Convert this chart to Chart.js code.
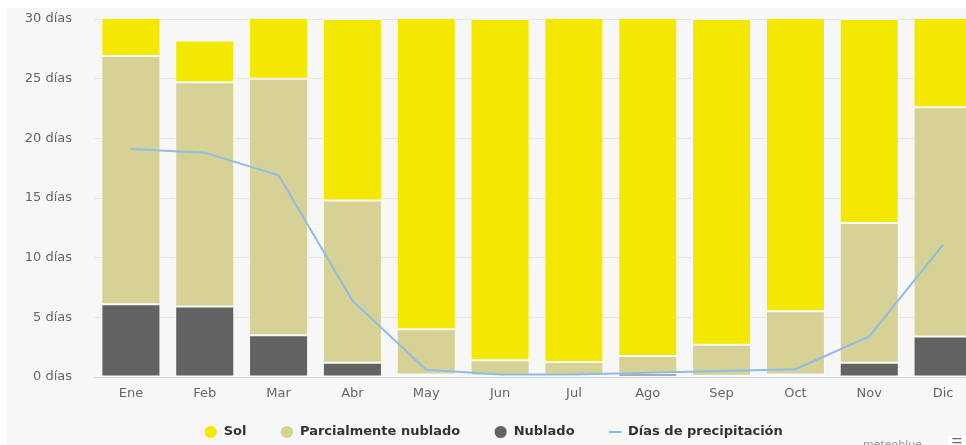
<!DOCTYPE html>
<html>
<head>
<meta charset="utf-8">
<script src="https://cdn.jsdelivr.net/npm/chart.js@4.4.1/dist/chart.umd.min.js"></script>
<style>
    body { margin: 0; background: #fff; overflow: hidden; }
    #wrap { position: absolute; left: 7px; top: 8px; width: 959px; height: 437px; background: #f7f7f7; overflow: hidden; }
    #box { position: relative; width: 984px; height: 437px; }
    .credit { position: absolute; left: 856px; top: 430px; font: 11px "DejaVu Sans", sans-serif; color: #999; }
    .menu { position: absolute; left: 941px; top: 428px; width: 18px; height: 12px; background: #fff; color: #666; font: 12px "DejaVu Sans", sans-serif; text-align: center; }
</style>
</head>
<body>
<div id="wrap">
    <div id="box"><canvas id="cloudChart"></canvas></div>
    <div class="credit">meteoblue</div>
    <div class="menu">☰</div>
</div>
<script>
// 월별 날씨 (일수)
const months = ['Ene', 'Feb', 'Mar', 'Abr', 'May', 'Jun', 'Jul', 'Ago', 'Sep', 'Oct', 'Nov', 'Dic'];
const nublado = [6.1, 5.9, 3.5, 1.2, 0.2, 0.1, 0.1, 0.3, 0.1, 0.2, 1.2, 3.4];
const parcial = [20.8, 18.8, 21.5, 13.6, 3.8, 1.3, 1.15, 1.45, 2.6, 5.3, 11.7, 19.2];
const sol = [4.1, 3.5, 6.0, 15.2, 27.0, 28.6, 29.75, 29.25, 27.3, 25.5, 17.1, 8.4];
const precipitacion = [19.1, 18.8, 16.9, 6.4, 0.6, 0.2, 0.2, 0.35, 0.5, 0.65, 3.4, 11.1];
const yTicks = [0, 5, 10, 15, 20, 25, 30];

const labelFont = { family: '"DejaVu Sans", sans-serif', size: 13 };

// 범례: padding 은 항목 간격용, 높이/위치는 따로 맞춤
const legendFitPlugin = {
    id: 'legendFit',
    afterInit(chart) {
        const legend = chart.legend;
        const fit = legend.fit.bind(legend);
        legend.fit = () => {
            fit();
            legend.height = 43;
        };
    },
    afterLayout(chart) {
        chart.legend.top -= 10.5;
    }
};

const cloudChartCtx = document.getElementById('cloudChart').getContext('2d');
const cloudChart = new Chart(cloudChartCtx, {
    type: 'bar',
    data: {
        labels: months,
        datasets: [{
            label: 'Nublado',
            data: nublado,
            backgroundColor: '#636363',
            borderColor: 'rgba(255,255,255,0.5)',
            borderWidth: 1,
            borderSkipped: false,
            stack: 'dias',
            clip: 0
        }, {
            label: 'Parcialmente nublado',
            data: parcial,
            backgroundColor: '#d6d295',
            borderColor: 'rgba(255,255,255,0.5)',
            borderWidth: 1,
            borderSkipped: false,
            stack: 'dias',
            clip: 0
        }, {
            label: 'Sol',
            data: sol,
            backgroundColor: '#f4e800',
            borderColor: 'rgba(255,255,255,0.5)',
            borderWidth: 1,
            borderSkipped: false,
            stack: 'dias',
            clip: 0
        }, {
            type: 'line',
            label: 'Días de precipitación',
            data: precipitacion,
            borderColor: '#8fbce8',
            backgroundColor: '#8fbce8',
            borderWidth: 2,
            pointRadius: 0,
            pointStyle: 'line',
            tension: 0,
            stack: 'precip',
            order: -1
        }]
    },
    plugins: [legendFitPlugin],
    options: {
        responsive: true,
        maintainAspectRatio: false,
        animation: false,
        categoryPercentage: 1,
        barPercentage: 0.8,
        layout: {
            padding: {
                top: 11,
                right: 11,
                bottom: 0
            }
        },
        scales: {
            x: {
                grid: { display: false, drawTicks: false },
                border: { color: '#ccd6eb' },
                ticks: { color: '#666', font: labelFont, padding: 9 },
                afterFit: (scale) => { scale.height = 25; }
            },
            y: {
                stacked: true,
                min: 0,
                max: 30,
                afterBuildTicks: (scale) => {
                    scale.ticks = yTicks.map(v => ({ value: v }));
                },
                grid: { color: '#e6e6e6', drawTicks: false },
                border: { display: false },
                ticks: {
                    color: '#666',
                    font: labelFont,
                    padding: 22,
                    callback: (value) => value + ' días'
                },
                afterFit: (scale) => {
                    scale.width = 87;
                    scale.paddingTop = 0;
                    scale.paddingBottom = 0;
                }
            }
        },
        plugins: {
            tooltip: { enabled: false },
            legend: {
                display: true,
                position: 'bottom',
                labels: {
                    usePointStyle: true,
                    boxHeight: 9,
                    padding: 34,
                    color: '#333',
                    font: { family: '"DejaVu Sans", sans-serif', size: 13, weight: 'bold' },
                    sort: (a, b) => {
                        const key = (item) => item.datasetIndex === 3 ? 99 : -item.datasetIndex;
                        return key(a) - key(b);
                    }
                }
            }
        }
    }
});
</script>
</body>
</html>
